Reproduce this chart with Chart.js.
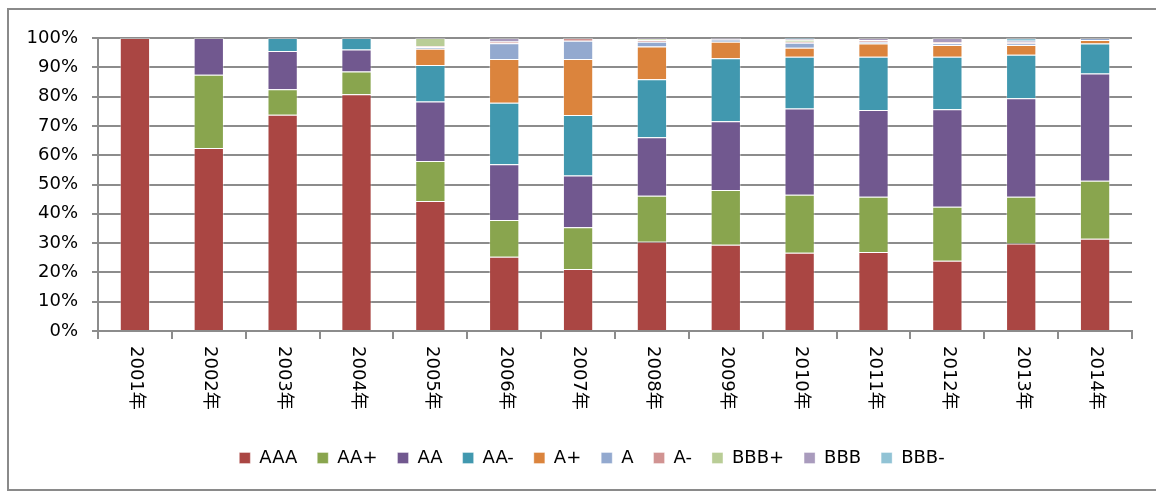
<!DOCTYPE html>
<html>
<head>
<meta charset="utf-8">
<script src="https://cdn.jsdelivr.net/npm/chart.js@4/dist/chart.umd.min.js"></script>
<style>
  html, body { margin: 0; padding: 0; background: #fff; }
  #wrap { width: 1156px; height: 493px; position: relative; }
</style>
</head>
<body>
<div id="wrap"><canvas id="ratingChart"></canvas></div>
<script>
const years = ['2001年', '2002年', '2003年', '2004年', '2005年', '2006年', '2007年', '2008年', '2009年', '2010年', '2011年', '2012年', '2013年', '2014年']
const yTicks = [0, 10, 20, 30, 40, 50, 60, 70, 80, 90, 100]

// share of each rating per year, in %
const AAA = [100, 62.5, 73.8, 80.8, 44.4, 25.3, 21.2, 30.5, 29.4, 26.7, 27.0, 24.0, 29.9, 31.5]
const AAplus = [0, 25.0, 8.7, 7.8, 13.6, 12.6, 14.2, 15.7, 18.7, 19.8, 18.8, 18.4, 15.9, 19.8]
const AA = [0, 12.5, 13.1, 7.5, 20.3, 19.0, 17.7, 19.9, 23.5, 29.4, 29.6, 33.3, 33.6, 36.6]
const AAminus = [0, 0, 4.4, 3.9, 12.5, 21.0, 20.6, 19.8, 21.5, 17.7, 18.2, 17.9, 14.9, 10.2]
const Aplus = [0, 0, 0, 0, 5.5, 14.9, 19.1, 11.2, 5.6, 3.1, 4.5, 4.0, 3.3, 1.2]
const A = [0, 0, 0, 0, 0.6, 5.4, 6.3, 1.6, 0.8, 1.7, 0.6, 0.6, 0.5, 0.7]
const Aminus = [0, 0, 0, 0, 0.3, 0.6, 0.9, 0.5, 0, 0.3, 0.6, 0.4, 0.4, 0]
const BBBplus = [0, 0, 0, 0, 2.8, 0, 0, 0.5, 0, 0.7, 0, 0, 0, 0]
const BBB = [0, 0, 0, 0, 0, 1.2, 0, 0.3, 0.5, 0.3, 0.7, 1.4, 0.6, 0]
const BBBminus = [0, 0, 0, 0, 0, 0, 0, 0, 0, 0.3, 0, 0, 0.9, 0]

const FONT = 'DejaVu Sans'
const GRID = '#8c8c8c'

const series = [
  ['AAA', AAA, '#AA4643'],
  ['AA+', AAplus, '#89A54E'],
  ['AA', AA, '#71588F'],
  ['AA-', AAminus, '#4198AF'],
  ['A+', Aplus, '#DB843D'],
  ['A', A, '#93A9CF'],
  ['A-', Aminus, '#D19392'],
  ['BBB+', BBBplus, '#B9CD96'],
  ['BBB', BBB, '#A99BBD'],
  ['BBB-', BBBminus, '#91C3D5'],
]

// outer chart border (excel style)
const frame = {
  id: 'frame',
  beforeDraw(chart) {
    const { ctx } = chart
    ctx.save()
    ctx.strokeStyle = '#8a8a8a'
    ctx.lineWidth = 2
    ctx.strokeRect(8, 9, 1160, 481)
    ctx.restore()
  }
}

// legend sits centred under the plot area, not the whole canvas
const legendShift = {
  id: 'legendShift',
  afterLayout(chart) {
    if (!chart.legend) return
    chart.legend.left += 26
    chart.legend.right += 26
  }
}

// x labels read top to bottom, so draw them ourselves
const yearLabels = {
  id: 'yearLabels',
  afterDraw(chart) {
    const { ctx, scales: { x } } = chart
    ctx.save()
    ctx.fillStyle = '#000'
    ctx.font = `18px "${FONT}", "Noto Sans CJK SC"`
    ctx.textAlign = 'left'
    ctx.textBaseline = 'middle'
    years.forEach((label, i) => {
      const px = x.getPixelForValue(i)
      ctx.save()
      ctx.translate(px + 1, x.top + 15)
      ctx.rotate(Math.PI / 2)
      ctx.fillText(label, 0, 0)
      ctx.restore()
    })
    ctx.restore()
  }
}

new Chart(document.getElementById('ratingChart'), {
  type: 'bar',
  data: {
    labels: years,
    datasets: series.map(([label, data, color]) => ({
      label,
      data,
      backgroundColor: color,
      borderColor: 'rgba(255,255,255,0.35)',
      borderWidth: 1,
      barPercentage: 0.41,
      categoryPercentage: 1,
    }))
  },
  options: {
    responsive: true,
    maintainAspectRatio: false,
    animation: false,
    layout: { padding: { top: 38, right: 24, bottom: 16, left: 0 } },
    plugins: {
      tooltip: { enabled: false },
      legend: {
        position: 'bottom',
        labels: {
          color: '#000',
          boxWidth: 11,
          boxHeight: 11,
          padding: 20,
          font: { family: FONT, size: 18 }
        }
      }
    },
    scales: {
      x: {
        stacked: true,
        afterFit(scale) { scale.height = 98 },
        grid: { offset: true, drawOnChartArea: false, drawTicks: true, tickLength: 8, color: GRID, lineWidth: 2 },
        border: { display: true, color: GRID, width: 2 },
        ticks: { display: false }
      },
      y: {
        stacked: true,
        min: 0,
        max: 100,
        afterFit(scale) { scale.width = 98 },
        afterBuildTicks(scale) { scale.ticks = yTicks.map(v => ({ value: v })) },
        grid: { color: GRID, lineWidth: 2, tickLength: 6 },
        border: { display: true, color: GRID, width: 2 },
        ticks: {
          color: '#000',
          padding: 14,
          font: { family: FONT, size: 18 },
          callback: v => v + '%'
        }
      }
    }
  },
  plugins: [frame, legendShift, yearLabels]
})
</script>
</body>
</html>
